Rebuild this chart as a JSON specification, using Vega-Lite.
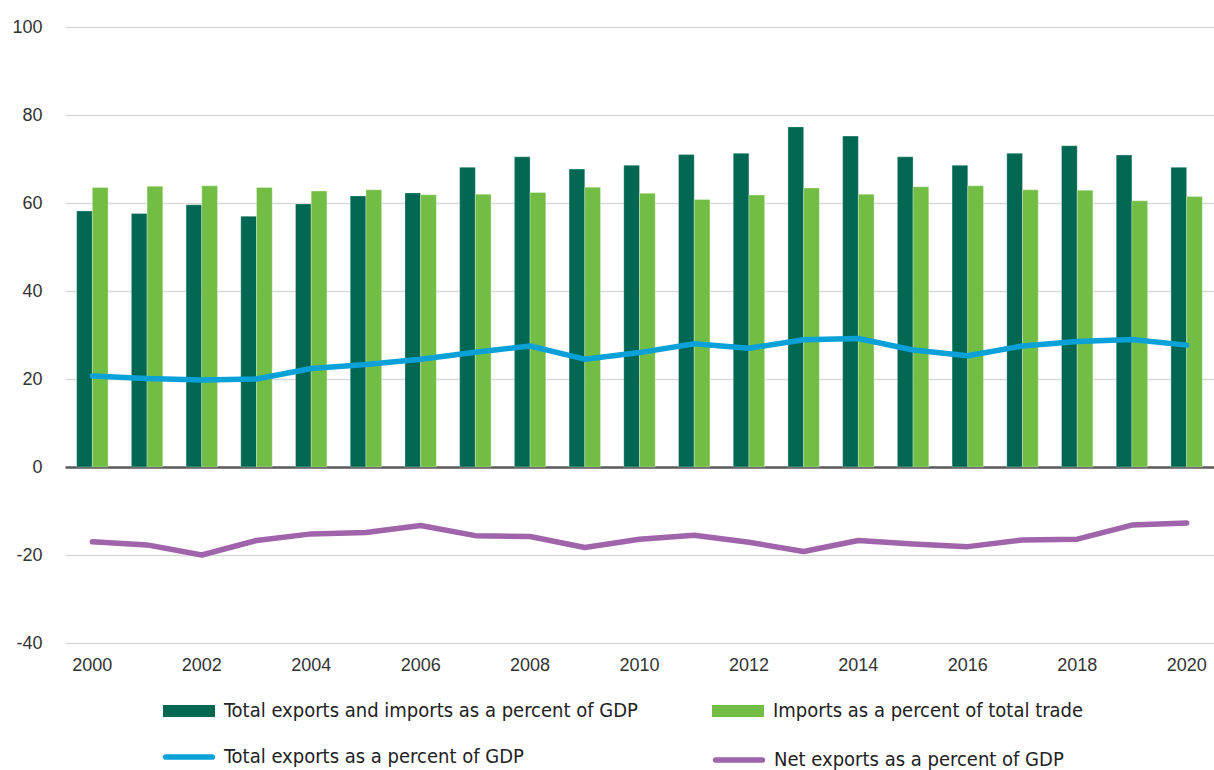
{
  "$schema": "https://vega.github.io/schema/vega-lite/v6.json",
  "width": 1149,
  "height": 616,
  "autosize": {"type": "none"},
  "padding": {"left": 65, "top": 27, "right": 0, "bottom": 127},
  "background": "white",
  "config": {
    "view": {"stroke": null},
    "font": "Liberation Sans",
    "axis": {"labelFont": "Liberation Sans", "labelFontSize": 18, "labelColor": "#333333", "domain": false, "ticks": false, "title": null},
    "legend": {"labelFont": "Liberation Sans Narrow, Arial Narrow, DejaVu Sans Condensed, sans-serif", "labelFontSize": 20, "labelColor": "#222222", "title": null, "labelOffset": 9, "labelLimit": 600}
  },
  "datasets": {
    "trade": [
      {"year": "2000", "series": "Total exports and imports as a percent of GDP", "value": 58.2},
      {"year": "2001", "series": "Total exports and imports as a percent of GDP", "value": 57.6},
      {"year": "2002", "series": "Total exports and imports as a percent of GDP", "value": 59.6},
      {"year": "2003", "series": "Total exports and imports as a percent of GDP", "value": 57.0},
      {"year": "2004", "series": "Total exports and imports as a percent of GDP", "value": 59.8},
      {"year": "2005", "series": "Total exports and imports as a percent of GDP", "value": 61.6},
      {"year": "2006", "series": "Total exports and imports as a percent of GDP", "value": 62.3},
      {"year": "2007", "series": "Total exports and imports as a percent of GDP", "value": 68.1},
      {"year": "2008", "series": "Total exports and imports as a percent of GDP", "value": 70.5},
      {"year": "2009", "series": "Total exports and imports as a percent of GDP", "value": 67.7},
      {"year": "2010", "series": "Total exports and imports as a percent of GDP", "value": 68.6},
      {"year": "2011", "series": "Total exports and imports as a percent of GDP", "value": 71.0},
      {"year": "2012", "series": "Total exports and imports as a percent of GDP", "value": 71.3},
      {"year": "2013", "series": "Total exports and imports as a percent of GDP", "value": 77.3},
      {"year": "2014", "series": "Total exports and imports as a percent of GDP", "value": 75.2},
      {"year": "2015", "series": "Total exports and imports as a percent of GDP", "value": 70.5},
      {"year": "2016", "series": "Total exports and imports as a percent of GDP", "value": 68.6},
      {"year": "2017", "series": "Total exports and imports as a percent of GDP", "value": 71.3},
      {"year": "2018", "series": "Total exports and imports as a percent of GDP", "value": 73.0},
      {"year": "2019", "series": "Total exports and imports as a percent of GDP", "value": 70.9},
      {"year": "2020", "series": "Total exports and imports as a percent of GDP", "value": 68.1},
      {"year": "2000", "series": "Imports as a percent of total trade", "value": 63.5},
      {"year": "2001", "series": "Imports as a percent of total trade", "value": 63.8},
      {"year": "2002", "series": "Imports as a percent of total trade", "value": 63.9},
      {"year": "2003", "series": "Imports as a percent of total trade", "value": 63.5},
      {"year": "2004", "series": "Imports as a percent of total trade", "value": 62.7},
      {"year": "2005", "series": "Imports as a percent of total trade", "value": 63.0},
      {"year": "2006", "series": "Imports as a percent of total trade", "value": 61.9},
      {"year": "2007", "series": "Imports as a percent of total trade", "value": 62.0},
      {"year": "2008", "series": "Imports as a percent of total trade", "value": 62.4},
      {"year": "2009", "series": "Imports as a percent of total trade", "value": 63.6},
      {"year": "2010", "series": "Imports as a percent of total trade", "value": 62.2},
      {"year": "2011", "series": "Imports as a percent of total trade", "value": 60.8},
      {"year": "2012", "series": "Imports as a percent of total trade", "value": 61.8},
      {"year": "2013", "series": "Imports as a percent of total trade", "value": 63.4},
      {"year": "2014", "series": "Imports as a percent of total trade", "value": 62.0},
      {"year": "2015", "series": "Imports as a percent of total trade", "value": 63.7},
      {"year": "2016", "series": "Imports as a percent of total trade", "value": 63.9},
      {"year": "2017", "series": "Imports as a percent of total trade", "value": 63.0},
      {"year": "2018", "series": "Imports as a percent of total trade", "value": 62.9},
      {"year": "2019", "series": "Imports as a percent of total trade", "value": 60.5},
      {"year": "2020", "series": "Imports as a percent of total trade", "value": 61.5},
      {"year": "2000", "series": "Total exports as a percent of GDP", "value": 20.7},
      {"year": "2001", "series": "Total exports as a percent of GDP", "value": 20.1},
      {"year": "2002", "series": "Total exports as a percent of GDP", "value": 19.8},
      {"year": "2003", "series": "Total exports as a percent of GDP", "value": 20.0},
      {"year": "2004", "series": "Total exports as a percent of GDP", "value": 22.4},
      {"year": "2005", "series": "Total exports as a percent of GDP", "value": 23.3},
      {"year": "2006", "series": "Total exports as a percent of GDP", "value": 24.5},
      {"year": "2007", "series": "Total exports as a percent of GDP", "value": 26.1},
      {"year": "2008", "series": "Total exports as a percent of GDP", "value": 27.5},
      {"year": "2009", "series": "Total exports as a percent of GDP", "value": 24.5},
      {"year": "2010", "series": "Total exports as a percent of GDP", "value": 26.0},
      {"year": "2011", "series": "Total exports as a percent of GDP", "value": 28.0},
      {"year": "2012", "series": "Total exports as a percent of GDP", "value": 27.0},
      {"year": "2013", "series": "Total exports as a percent of GDP", "value": 28.9},
      {"year": "2014", "series": "Total exports as a percent of GDP", "value": 29.2},
      {"year": "2015", "series": "Total exports as a percent of GDP", "value": 26.6},
      {"year": "2016", "series": "Total exports as a percent of GDP", "value": 25.3},
      {"year": "2017", "series": "Total exports as a percent of GDP", "value": 27.5},
      {"year": "2018", "series": "Total exports as a percent of GDP", "value": 28.5},
      {"year": "2019", "series": "Total exports as a percent of GDP", "value": 29.0},
      {"year": "2020", "series": "Total exports as a percent of GDP", "value": 27.7},
      {"year": "2000", "series": "Net exports as a percent of GDP", "value": -17.0},
      {"year": "2001", "series": "Net exports as a percent of GDP", "value": -17.7},
      {"year": "2002", "series": "Net exports as a percent of GDP", "value": -20.0},
      {"year": "2003", "series": "Net exports as a percent of GDP", "value": -16.7},
      {"year": "2004", "series": "Net exports as a percent of GDP", "value": -15.2},
      {"year": "2005", "series": "Net exports as a percent of GDP", "value": -14.9},
      {"year": "2006", "series": "Net exports as a percent of GDP", "value": -13.3},
      {"year": "2007", "series": "Net exports as a percent of GDP", "value": -15.6},
      {"year": "2008", "series": "Net exports as a percent of GDP", "value": -15.8},
      {"year": "2009", "series": "Net exports as a percent of GDP", "value": -18.3},
      {"year": "2010", "series": "Net exports as a percent of GDP", "value": -16.4},
      {"year": "2011", "series": "Net exports as a percent of GDP", "value": -15.5},
      {"year": "2012", "series": "Net exports as a percent of GDP", "value": -17.1},
      {"year": "2013", "series": "Net exports as a percent of GDP", "value": -19.2},
      {"year": "2014", "series": "Net exports as a percent of GDP", "value": -16.7},
      {"year": "2015", "series": "Net exports as a percent of GDP", "value": -17.5},
      {"year": "2016", "series": "Net exports as a percent of GDP", "value": -18.1},
      {"year": "2017", "series": "Net exports as a percent of GDP", "value": -16.6},
      {"year": "2018", "series": "Net exports as a percent of GDP", "value": -16.4},
      {"year": "2019", "series": "Net exports as a percent of GDP", "value": -13.2},
      {"year": "2020", "series": "Net exports as a percent of GDP", "value": -12.7}
    ]
  },
  "data": {"name": "trade"},
  "encoding": {
    "x": {
      "field": "year", "type": "ordinal",
      "scale": {"paddingInner": 0.426, "paddingOuter": 0.213},
      "axis": {"values": ["2000","2002","2004","2006","2008","2010","2012","2014","2016","2018","2020"], "labelAngle": 0, "labelPadding": 13, "grid": false}
    },
    "y": {
      "field": "value", "type": "quantitative",
      "scale": {"domain": [-40, 100], "nice": false, "zero": false},
      "axis": {
        "values": [-40, -20, 0, 20, 40, 60, 80, 100],
        "labelExpr": "'' + datum.value",
        "labelPadding": 23,
        "grid": true,
        "gridColor": {"condition": {"test": "datum.value === 0", "value": "#595959"}, "value": "#d9d9d9"},
        "gridWidth": {"condition": {"test": "datum.value === 0", "value": 2.5}, "value": 1.5}
      }
    }
  },
  "layer": [
    {
      "transform": [{"filter": "datum.series === 'Total exports and imports as a percent of GDP'"}],
      "mark": {"type": "bar", "stroke": "#ffffff", "strokeWidth": 0.6, "strokeOpacity": 0.5},
      "encoding": {
        "xOffset": {"field": "series", "scale": {"domain": ["Total exports and imports as a percent of GDP", "Imports as a percent of total trade"]}},
        "color": {
          "field": "series", "type": "nominal",
          "scale": {"domain": ["Total exports and imports as a percent of GDP"], "range": ["#006852"]},
          "legend": {"orient": "none", "legendX": 98, "legendY": 658, "symbolType": "M-1,-0.23L1,-0.23L1,0.23L-1,0.23Z", "symbolSize": 2704, "symbolStrokeWidth": 0}
        }
      }
    },
    {
      "transform": [{"filter": "datum.series === 'Imports as a percent of total trade'"}],
      "mark": {"type": "bar", "stroke": "#ffffff", "strokeWidth": 0.6, "strokeOpacity": 0.5},
      "encoding": {
        "xOffset": {"field": "series", "scale": {"domain": ["Total exports and imports as a percent of GDP", "Imports as a percent of total trade"]}},
        "color": {
          "field": "series", "type": "nominal",
          "scale": {"domain": ["Imports as a percent of total trade"], "range": ["#72be44"]},
          "legend": {"orient": "none", "legendX": 647, "legendY": 658, "symbolType": "M-1,-0.23L1,-0.23L1,0.23L-1,0.23Z", "symbolSize": 2704, "symbolStrokeWidth": 0}
        }
      }
    },
    {
      "transform": [{"filter": "datum.series === 'Total exports as a percent of GDP'"}],
      "mark": {"type": "line", "strokeWidth": 5.5, "strokeCap": "round", "strokeJoin": "round"},
      "encoding": {
        "color": {
          "field": "series", "type": "nominal",
          "scale": {"domain": ["Total exports as a percent of GDP"], "range": ["#0aa0d8"]},
          "legend": {"orient": "none", "legendX": 98, "legendY": 704, "symbolType": "M-0.9,-0.11L0.9,-0.11A0.11,0.11 0 0 1 0.9,0.11L-0.9,0.11A0.11,0.11 0 0 1 -0.9,-0.11Z", "symbolSize": 2704, "symbolFillColor": "#0aa0d8", "symbolStrokeWidth": 0}
        }
      }
    },
    {
      "transform": [{"filter": "datum.series === 'Net exports as a percent of GDP'"}],
      "mark": {"type": "line", "strokeWidth": 5.5, "strokeCap": "round", "strokeJoin": "round"},
      "encoding": {
        "color": {
          "field": "series", "type": "nominal",
          "scale": {"domain": ["Net exports as a percent of GDP"], "range": ["#a064aa"]},
          "legend": {"orient": "none", "legendX": 648, "legendY": 707, "symbolType": "M-0.9,-0.11L0.9,-0.11A0.11,0.11 0 0 1 0.9,0.11L-0.9,0.11A0.11,0.11 0 0 1 -0.9,-0.11Z", "symbolSize": 2704, "symbolFillColor": "#a064aa", "symbolStrokeWidth": 0}
        }
      }
    }
  ],
  "resolve": {"scale": {"color": "independent"}, "legend": {"color": "independent"}}
}
